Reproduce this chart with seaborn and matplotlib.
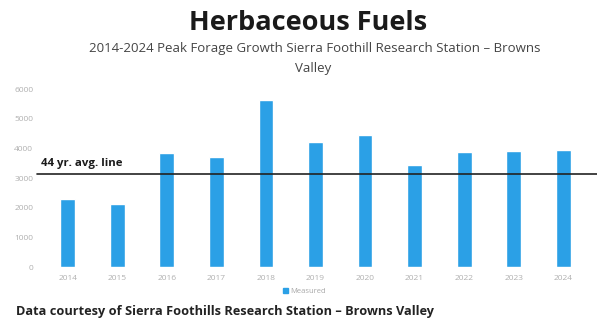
import matplotlib
matplotlib.use("Agg")
import matplotlib.pyplot as plt
import seaborn as sns
import pandas as pd
from matplotlib.patches import Patch

years = ["2014", "2015", "2016", "2017", "2018", "2019", "2020", "2021", "2022", "2023", "2024"]
measured = [2290, 2120, 3840, 3700, 5620, 4230, 4460, 3430, 3870, 3900, 3940]
avg_44yr = 3130
yticks = [0, 1000, 2000, 3000, 4000, 5000, 6000]

df = pd.DataFrame({"Year": years, "Measured": measured})

sns.set_theme(style="white")
plt.rcParams["font.family"] = ["Open Sans", "DejaVu Sans"]

fig = plt.figure(figsize=(5.97, 3.18), dpi=100)
ax = fig.add_axes([0.072, 0.16, 0.913, 0.56])

bar_color = "#2BA0E6"
sns.barplot(data=df, x="Year", y="Measured", color=bar_color, width=0.3,
            saturation=1, ax=ax)

ax.set_ylim(0, 6000)
ax.set_xlim(-0.5, len(years) - 0.5)
ax.set_yticks(yticks)
ax.set_yticklabels([str(v) for v in yticks])
ax.tick_params(axis="both", labelsize=6, colors="#b0b0b0", length=0)
ax.tick_params(axis="y", pad=7)
ax.tick_params(axis="x", pad=6)
ax.set_xlabel("")
ax.set_ylabel("")
for s in ax.spines.values():
    s.set_visible(False)

ax.axhline(avg_44yr, xmin=-0.011, xmax=1.02, color="#222222", lw=1.2, clip_on=False)
ax.text(-0.55, avg_44yr + 190, "44 yr. avg. line", fontsize=8.2, fontweight="bold",
        color="#1a1a1a", va="bottom", ha="left")

fig.text(0.516, 0.928, "Herbaceous Fuels", ha="center", va="center",
         fontsize=19.5, fontweight="bold", color="#1a1a1a")
fig.text(0.528, 0.846, "2014-2024 Peak Forage Growth Sierra Foothill Research Station \u2013 Browns",
         ha="center", va="center", fontsize=9.5, color="#444444")
fig.text(0.525, 0.786, "Valley", ha="center", va="center", fontsize=9.5, color="#444444")

fig.legend(handles=[Patch(color=bar_color, label="Measured")], loc="center",
           bbox_to_anchor=(0.51, 0.082), frameon=False, fontsize=5.5,
           handlelength=0.6, handleheight=0.6, handletextpad=0.3,
           labelcolor="#a8a8a8")

fig.text(0.027, 0.022, "Data courtesy of Sierra Foothills Research Station \u2013 Browns Valley",
         ha="left", va="center", fontsize=9.2, fontweight="bold", color="#222222")

fig.savefig("out.png", dpi=100)
